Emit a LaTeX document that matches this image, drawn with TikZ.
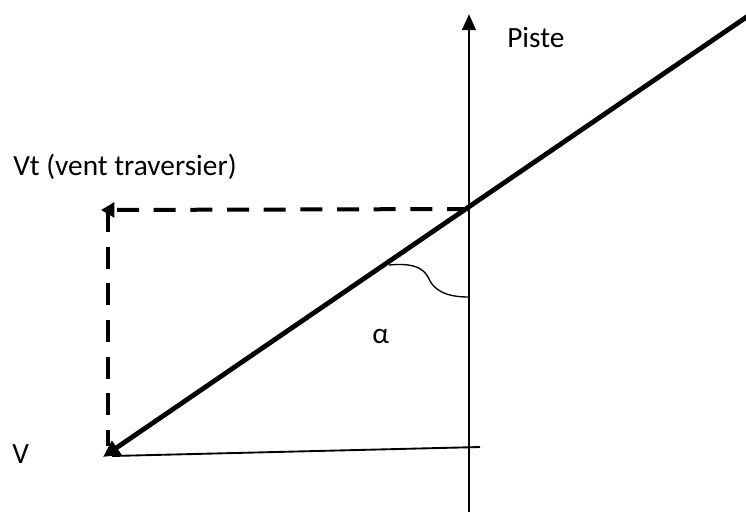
\documentclass[tikz,border=0pt]{standalone}
\usepackage{fontspec}
\setmainfont{Carlito}
\usetikzlibrary{arrows.meta}
\begin{document}
\begin{tikzpicture}[x=0.75pt,y=-0.75pt,
  lbl/.style={font=\fontsize{22}{26}\selectfont, inner sep=0pt, anchor=base west},
  vecline/.style={line width=3.6pt, -{Triangle[length=12.5pt,width=12pt]}},
  dashvec/.style={line width=3pt, dash pattern=on 16.5pt off 11pt},
  axisline/.style={line width=2.2pt, -{Triangle[length=12pt,width=10pt]}},
  thinline/.style={line width=1.4pt},
  anglearc/.style={line width=1pt}]
\useasboundingbox (0,0) rectangle (746,512);
% points
\coordinate (axb) at (469,512);
\coordinate (axt) at (469,14);
\coordinate (O) at (469,209);
\coordinate (far) at (748,16);
\coordinate (V) at (103,457);
\coordinate (Vt) at (101,210);
\coordinate (corner) at (108,210);
\coordinate (Vb) at (108,446);
\coordinate (hs) at (112,456);
\coordinate (he) at (480,447);
\coordinate (a1) at (389,265);
\coordinate (a2) at (469,297);
% labels
\node[lbl] (piste) at (507,47) {Piste};
\node[lbl] (vtlab) at (13,175) {Vt (vent traversier)};
\node[lbl] (alpha) at (372,343) {α};
\node[lbl] (vlab) at (12,463) {V};
% drawing
\draw[axisline] (axb) -- (axt);
\draw[dashvec] (corner) -- (Vb);
\draw[dashvec, -{Triangle[length=10pt,width=11pt]}] (O) -- (Vt);
\draw[thinline] (hs) -- (he);
\draw[vecline] (far) -- (V);
\draw[anglearc] (a1) .. controls (420,262) and (426,272) .. (430,281)
  .. controls (438,295) and (455,297) .. (a2);
\end{tikzpicture}
\end{document}
